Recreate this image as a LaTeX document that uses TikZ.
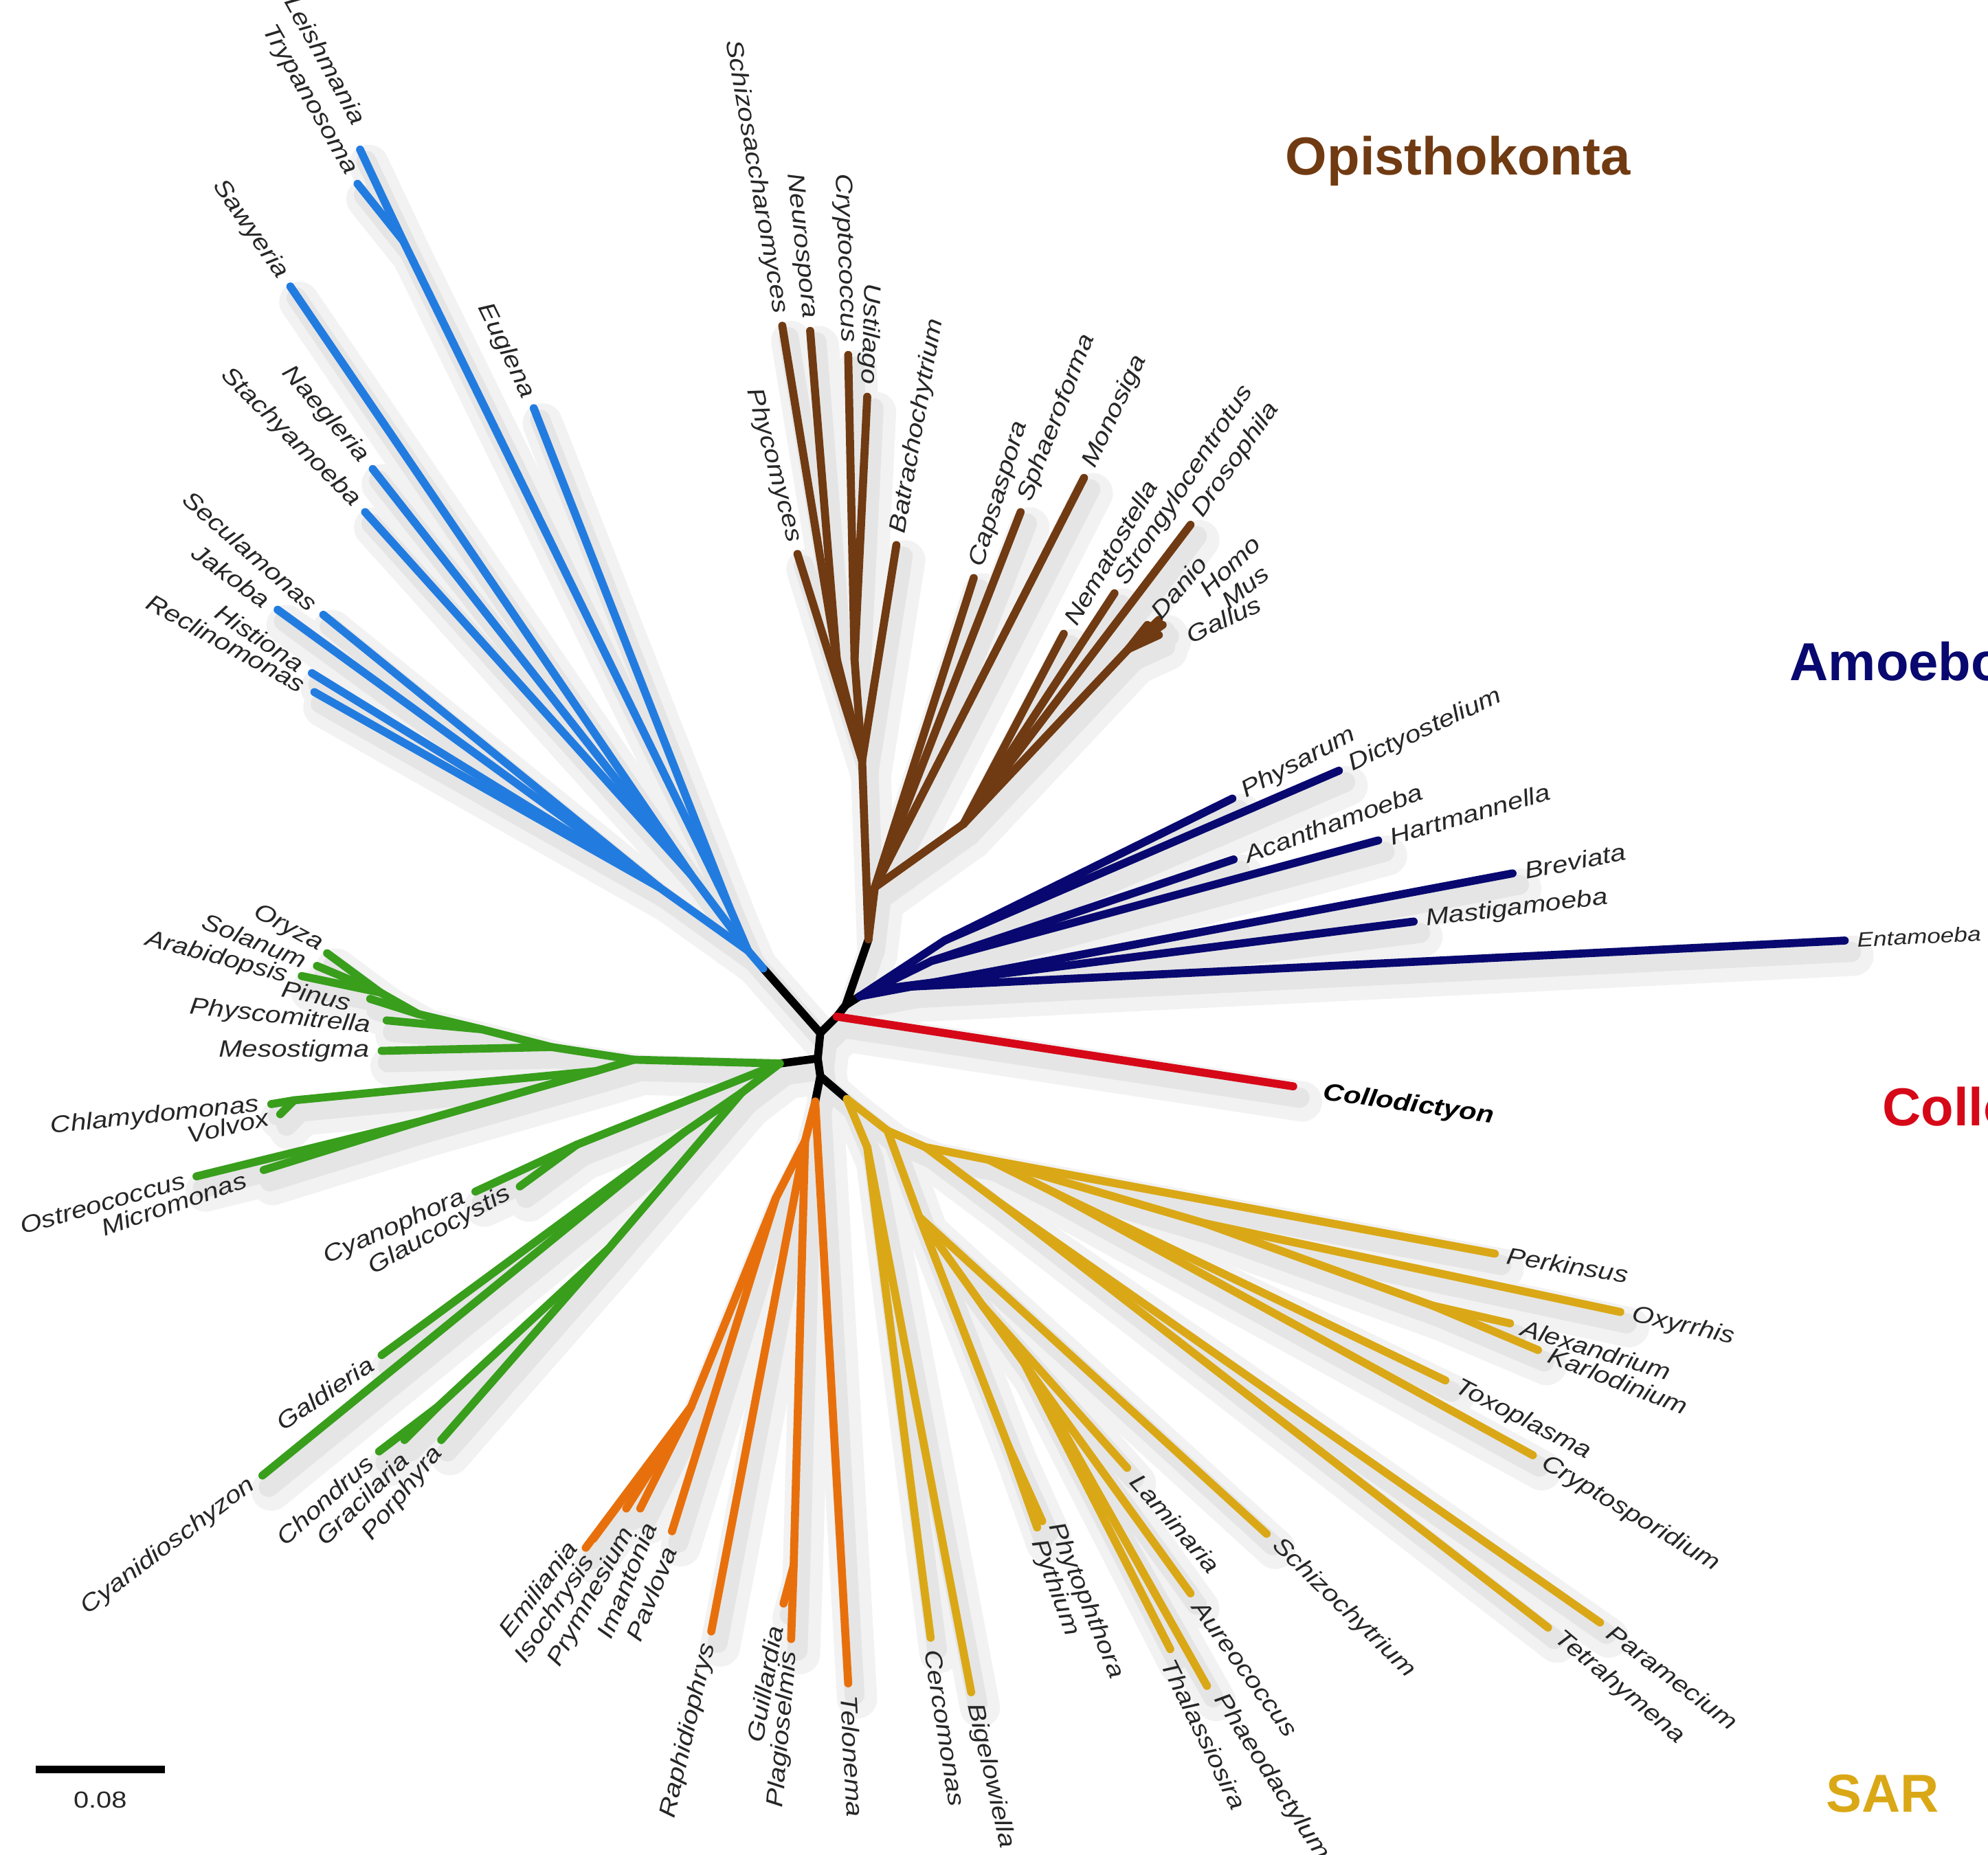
\documentclass[tikz,border=0pt]{standalone}
\usepackage{fontspec}
\setmainfont{Liberation Sans}
\newfontfamily\taxfont{Liberation Sans}[FakeStretch=1.18]

\definecolor{excblue}{RGB}{34,124,224}
\definecolor{opibrown}{RGB}{112,58,18}
\definecolor{amonavy}{RGB}{8,8,112}
\definecolor{colred}{RGB}{214,8,24}
\definecolor{arcgreen}{RGB}{56,158,28}
\definecolor{hacorange}{RGB}{232,112,12}
\definecolor{sargold}{RGB}{218,168,22}

% all branches of the tree (drawn once per shadow pass and once for real)
\newcommand\drawbranches{%
  % black backbone
  \draw[stem] (b0) -- (C1) -- (cR) -- (cA) -- (o0);
  \draw[stem] (cA) -- (a0);
  \draw[stem] (C1) -- (C2) -- (C3) -- (O);
  \draw[stem] (C2) -- (g0);
  \draw[stem] (C3) -- (Y);
  % excavates
  \draw[exc] (b0) -- (bD);
  \draw[exc] (bD) -- (bEu) -- (bKin) -- (leishmania);
  \draw[exc] (bKin) -- (trypanosoma);
  \draw[exc] (bEu) -- (euglena);
  \draw[exc] (bD) -- (bHet) -- (sawyeria);
  \draw[exc] (bHet) -- (naegleria);
  \draw[exc] (bHet) -- (stachyamoeba);
  \draw[exc] (bD) -- (bJak) -- (seculamonas);
  \draw[exc] (bJak) -- (jakoba);
  \draw[exc] (bJak) -- (histiona);
  \draw[exc] (bJak) -- (reclinomonas);
  % opisthokonts
  \draw[opi] (o0) -- (oF) -- (oAsc) -- (schizo);
  \draw[opi] (oAsc) -- (neurospora);
  \draw[opi] (oF) -- (oBas) -- (cryptococcus);
  \draw[opi] (oBas) -- (ustilago);
  \draw[opi] (oF) -- (phycomyces);
  \draw[opi] (oF) -- (batracho);
  \draw[opi] (o0) -- (oH) -- (capsaspora);
  \draw[opi] (oH) -- (sphaeroforma);
  \draw[opi] (oH) -- (monosiga);
  \draw[opi] (oH) -- (oM) -- (nematostella);
  \draw[opi] (oM) -- (strongylo);
  \draw[opi] (oM) -- (drosophila);
  \draw[opi] (oM) -- (oV) -- (danio);
  \draw[opi] (oV) -- (homo);
  \draw[opi] (oV) -- (mus);
  \draw[opi] (oV) -- (gallus);
  % amoebozoa
  \draw[amo] (a0) -- (aArch) -- (entamoeba);
  \draw[amo] (aArch) -- (mastigamoeba);
  \draw[amo] (a0) -- (breviata);
  \draw[amo] (a0) -- (aDisc) -- (acanthamoeba);
  \draw[amo] (aDisc) -- (hartmannella);
  \draw[amo] (a0) -- (aMy) -- (physarum);
  \draw[amo] (aMy) -- (dictyostelium);
  % collodictyon
  \draw[col] (cR) -- (collodictyon);
  % archaeplastida
  \draw[arc] (g0) -- (gV) -- (gStr) -- (mesostigma);
  \draw[arc] (gStr) -- (gLand) -- (physcomitrella);
  \draw[arc] (gLand) -- (gSeed) -- (pinus);
  \draw[arc] (gSeed) -- (gAng) -- (oryza);
  \draw[arc] (gAng) -- (solanum);
  \draw[arc] (gAng) -- (arabidopsis);
  \draw[arc] (gV) -- (gChl) -- (gCV) -- (chlamydomonas);
  \draw[arc] (gCV) -- (volvox);
  \draw[arc] (gChl) -- (gOM) -- (ostreococcus);
  \draw[arc] (gOM) -- (micromonas);
  \draw[arc] (g0) -- (gGl) -- (cyanophora);
  \draw[arc] (gGl) -- (glaucocystis);
  \draw[arc] (g0) -- (gR) -- (gCy) -- (galdieria);
  \draw[arc] (gCy) -- (cyanidioschyzon);
  \draw[arc] (gR) -- (gBF) -- (porphyra);
  \draw[arc] (gBF) -- (gFl) -- (chondrus);
  \draw[arc] (gFl) -- (gracilaria);
  % haptophytes, cryptophytes and relatives
  \draw[hac] (O) -- (hR) -- (hHap) -- (pavlova);
  \draw[hac] (hHap) -- (hPrym) -- (emiliania);
  \draw[hac] (hPrym) -- (isochrysis);
  \draw[hac] (hPrym) -- (prymnesium);
  \draw[hac] (hPrym) -- (imantonia);
  \draw[hac] (hR) -- (raphidiophrys);
  \draw[hac] (hR) -- (hCry) -- (guillardia);
  \draw[hac] (hCry) -- (plagioselmis);
  \draw[hac] (O) -- (telonema);
  % SAR
  \draw[sar] (Y) -- (yRh) -- (cercomonas);
  \draw[sar] (yRh) -- (bigelowiella);
  \draw[sar] (Y) -- (ySA) -- (yStr) -- (schizochytrium);
  \draw[sar] (yStr) -- (yOom) -- (phytophthora);
  \draw[sar] (yOom) -- (pythium);
  \draw[sar] (yStr) -- (yOch) -- (laminaria);
  \draw[sar] (yOch) -- (aureococcus);
  \draw[sar] (yOch) -- (yDia) -- (thalassiosira);
  \draw[sar] (yDia) -- (phaeodactylum);
  \draw[sar] (ySA) -- (yAlv) -- (yCil) -- (paramecium);
  \draw[sar] (yCil) -- (tetrahymena);
  \draw[sar] (yAlv) -- (yMyz) -- (perkinsus);
  \draw[sar] (yMyz) -- (yDino) -- (oxyrrhis);
  \draw[sar] (yDino) -- (yAK) -- (alexandrium);
  \draw[sar] (yAK) -- (karlodinium);
  \draw[sar] (yMyz) -- (yApi) -- (toxoplasma);
  \draw[sar] (yApi) -- (cryptosporidium);
}

\begin{document}
\begin{tikzpicture}[
  x=0.01cm, y=-0.01cm,
  branch/.style={line width=1.8pt, line cap=round, line join=round},
  stem/.style={branch, draw=black},
  exc/.style={branch, draw=excblue},
  opi/.style={branch, draw=opibrown},
  amo/.style={branch, draw=amonavy},
  col/.style={branch, draw=colred},
  arc/.style={branch, draw=arcgreen},
  hac/.style={branch, draw=hacorange},
  sar/.style={branch, draw=sargold},
  shadowpass/.style={stem/.style={#1}, exc/.style={#1}, opi/.style={#1},
    amo/.style={#1}, col/.style={#1}, arc/.style={#1}, hac/.style={#1},
    sar/.style={#1}},
  tax/.style={font=\taxfont\fontsize{5.3}{6}\selectfont\itshape, text=black!85,
              inner sep=1pt, outer sep=1.8pt},
  grp/.style={font=\fontsize{12}{14}\selectfont\bfseries, inner sep=0pt},
]
\useasboundingbox (0,0) rectangle (1568,1463);
\clip (0,0) rectangle (1568,1463);

% backbone
\coordinate (b0) at (602,764);
\coordinate (C1) at (647,815);
\coordinate (cR) at (660,802);
\coordinate (cA) at (667,793);
\coordinate (C2) at (645,835);
\coordinate (C3) at (647,849);
\coordinate (o0) at (685,741);
\coordinate (a0) at (678,786);
\coordinate (g0) at (615,839);
\coordinate (O)  at (643,869);
\coordinate (Y)  at (668,867);

% excavates
\coordinate (bD) at (590,750);
\coordinate (bEu) at (575,715);
\coordinate (bKin) at (318,190);
\coordinate (bHet) at (545,690);
\coordinate (bJak) at (520,700);
\coordinate (leishmania) at (284,118);
\coordinate (trypanosoma) at (282,145);
\coordinate (euglena) at (421,322);
\coordinate (sawyeria) at (229,226);
\coordinate (naegleria) at (294,370);
\coordinate (stachyamoeba) at (288,404);
\coordinate (seculamonas) at (255,485);
\coordinate (jakoba) at (219,481);
\coordinate (histiona) at (246,531);
\coordinate (reclinomonas) at (248,546);

% opisthokonts
\coordinate (oF) at (680,600);
\coordinate (oAsc) at (660,520);
\coordinate (oBas) at (674,520);
\coordinate (oH) at (690,700);
\coordinate (oM) at (760,650);
\coordinate (oV) at (890,512);
\coordinate (schizo) at (617,257);
\coordinate (neurospora) at (639,261);
\coordinate (cryptococcus) at (669,280);
\coordinate (ustilago) at (684,313);
\coordinate (phycomyces) at (629,437);
\coordinate (batracho) at (707,430);
\coordinate (capsaspora) at (768,456);
\coordinate (sphaeroforma) at (805,404);
\coordinate (monosiga) at (855,377);
\coordinate (nematostella) at (839,500);
\coordinate (strongylo) at (879,468);
\coordinate (drosophila) at (939,414);
\coordinate (danio) at (905,493);
\coordinate (homo) at (914,489);
\coordinate (mus) at (917,493);
\coordinate (gallus) at (914,501);

% amoebozoa
\coordinate (aArch) at (705,779);
\coordinate (aDisc) at (735,758);
\coordinate (aMy) at (745,742);
\coordinate (entamoeba) at (1455,742);
\coordinate (mastigamoeba) at (1115,727);
\coordinate (breviata) at (1193,689);
\coordinate (acanthamoeba) at (973,678);
\coordinate (hartmannella) at (1087,663);
\coordinate (physarum) at (972,630);
\coordinate (dictyostelium) at (1056,608);

% collodictyon
\coordinate (collodictyon) at (1020,857);

% archaeplastida
\coordinate (gV) at (500,836);
\coordinate (gStr) at (435,826);
\coordinate (gLand) at (380,812);
\coordinate (gSeed) at (330,800);
\coordinate (gAng) at (300,783);
\coordinate (gChl) at (470,845);
\coordinate (gCV) at (232,868);
\coordinate (gOM) at (330,885);
\coordinate (gGl) at (455,903);
\coordinate (gR) at (585,862);
\coordinate (gCy) at (540,893);
\coordinate (gBF) at (480,985);
\coordinate (gFl) at (345,1110);
\coordinate (oryza) at (258,752);
\coordinate (solanum) at (250,762);
\coordinate (arabidopsis) at (238,770);
\coordinate (pinus) at (292,788);
\coordinate (physcomitrella) at (305,805);
\coordinate (mesostigma) at (301,829);
\coordinate (chlamydomonas) at (214,871);
\coordinate (volvox) at (221,879);
\coordinate (ostreococcus) at (155,928);
\coordinate (micromonas) at (208,923);
\coordinate (cyanophora) at (375,940);
\coordinate (glaucocystis) at (410,936);
\coordinate (galdieria) at (301,1069);
\coordinate (cyanidioschyzon) at (207,1164);
\coordinate (chondrus) at (299,1145);
\coordinate (gracilaria) at (319,1136);
\coordinate (porphyra) at (348,1136);

% haptophytes, cryptophytes and relatives
\coordinate (hR) at (635,900);
\coordinate (hHap) at (612,945);
\coordinate (hPrym) at (545,1110);
\coordinate (hCry) at (626,1235);
\coordinate (emiliania) at (462,1221);
\coordinate (isochrysis) at (468,1214);
\coordinate (prymnesium) at (494,1190);
\coordinate (imantonia) at (505,1190);
\coordinate (pavlova) at (530,1208);
\coordinate (raphidiophrys) at (561,1287);
\coordinate (guillardia) at (618,1265);
\coordinate (plagioselmis) at (624,1293);
\coordinate (telonema) at (669,1328);

% SAR
\coordinate (yRh) at (684,905);
\coordinate (ySA) at (700,892);
\coordinate (yStr) at (725,960);
\coordinate (yOom) at (795,1140);
\coordinate (yOch) at (775,1030);
\coordinate (yDia) at (800,1060);
\coordinate (yAlv) at (730,905);
\coordinate (yCil) at (790,950);
\coordinate (yMyz) at (780,915);
\coordinate (yDino) at (950,965);
\coordinate (yAK) at (1130,1030);
\coordinate (yApi) at (830,940);
\coordinate (cercomonas) at (734,1292);
\coordinate (bigelowiella) at (766,1335);
\coordinate (phytophthora) at (822,1200);
\coordinate (pythium) at (818,1205);
\coordinate (laminaria) at (889,1158);
\coordinate (aureococcus) at (939,1257);
\coordinate (thalassiosira) at (923,1301);
\coordinate (phaeodactylum) at (952,1330);
\coordinate (schizochytrium) at (999,1210);
\coordinate (perkinsus) at (1179,989);
\coordinate (oxyrrhis) at (1278,1035);
\coordinate (alexandrium) at (1191,1044);
\coordinate (karlodinium) at (1213,1065);
\coordinate (toxoplasma) at (1140,1089);
\coordinate (cryptosporidium) at (1209,1148);
\coordinate (paramecium) at (1262,1280);
\coordinate (tetrahymena) at (1221,1284);

% soft drop shadow, then the tree
\begin{scope}[transform canvas={shift={(7,12)}},
  shadowpass={line width=9pt, line cap=round, line join=round, draw=black!5}]
  \drawbranches
\end{scope}
\begin{scope}[transform canvas={shift={(5,9)}},
  shadowpass={line width=4.5pt, line cap=round, line join=round, draw=black!10}]
  \drawbranches
\end{scope}
\drawbranches

% leaf labels
\node[tax, rotate=-61, anchor=east] (tLeish) at ([shift={(5,-13)}]leishmania) {Leishmania};
\node[tax, rotate=-60, anchor=east] (tTrypa) at (trypanosoma) {Trypanosoma};
\node[tax, rotate=-64, anchor=east] (tEugl) at (euglena) {Euglena};
\node[tax, rotate=-55, anchor=east] (tSawy) at (sawyeria) {Sawyeria};
\node[tax, rotate=-49, anchor=east] (tNaeg) at (naegleria) {Naegleria};
\node[tax, rotate=-45, anchor=east] (tStac) at (stachyamoeba) {Stachyamoeba};
\node[tax, rotate=-41, anchor=east] (tSecu) at (seculamonas) {Seculamonas};
\node[tax, rotate=-36, anchor=east] (tJako) at (jakoba) {Jakoba};
\node[tax, rotate=-34, anchor=east] (tHist) at (histiona) {Histiona};
\node[tax, rotate=-29, anchor=east] (tRecl) at (reclinomonas) {Reclinomonas};

\node[tax, rotate=-80, anchor=east] (tSchi) at (schizo) {Schizosaccharomyces};
\node[tax, rotate=-84, anchor=east] (tNeur) at (neurospora) {Neurospora};
\node[tax, rotate=-88, anchor=east] (tCryp) at (cryptococcus) {Cryptococcus};
\node[tax, rotate=-92, anchor=east] (tUsti) at (ustilago) {Ustilago};
\node[tax, rotate=-75, anchor=east] (tPhyc) at (phycomyces) {Phycomyces};
\node[tax, rotate=80, anchor=west] (tBatr) at (batracho) {Batrachochytrium};
\node[tax, rotate=73, anchor=west] (tCaps) at (capsaspora) {Capsaspora};
\node[tax, rotate=69, anchor=west] (tSpha) at (sphaeroforma) {Sphaeroforma};
\node[tax, rotate=65, anchor=west] (tMono) at (monosiga) {Monosiga};
\node[tax, rotate=60, anchor=west] (tNema) at (nematostella) {Nematostella};
\node[tax, rotate=57, anchor=west] (tStro) at (strongylo) {Strongylocentrotus};
\node[tax, rotate=55, anchor=west] (tDros) at (drosophila) {Drosophila};
\node[tax, rotate=50, anchor=west] (tDani) at (danio) {Danio};
\node[tax, rotate=44, anchor=west] (tHomo) at ([shift={(28,-15)}]homo) {Homo};
\node[tax, rotate=38, anchor=west] (tMus) at ([shift={(41,-11)}]mus) {Mus};
\node[tax, rotate=25, anchor=west] (tGall) at ([shift={(14,5)}]gallus) {Gallus};

\node[tax, rotate=28, anchor=west] (tPhys) at (physarum) {Physarum};
\node[tax, rotate=25, anchor=west] (tDict) at (dictyostelium) {Dictyostelium};
\node[tax, rotate=20, anchor=west] (tAcan) at (acanthamoeba) {Acanthamoeba};
\node[tax, rotate=16, anchor=west] (tHart) at (hartmannella) {Hartmannella};
\node[tax, rotate=11, anchor=west] (tBrev) at (breviata) {Breviata};
\node[tax, rotate=7, anchor=west] (tMast) at (mastigamoeba) {Mastigamoeba};
\node[tax, rotate=3, anchor=west, font=\taxfont\fontsize{4.6}{5}\selectfont\itshape]
  (tEnta) at (entamoeba) {Entamoeba};

\node[tax, rotate=-8, anchor=west, text=black,
      font=\taxfont\fontsize{5.4}{6}\selectfont\bfseries\itshape]
  (tColl) at ([shift={(14,4)}]collodictyon) {Collodictyon};

\node[tax, rotate=-28, anchor=east] (tOryz) at ([shift={(4,-1)}]oryza) {Oryza};
\node[tax, rotate=-22, anchor=east] (tSola) at (solanum) {Solanum};
\node[tax, rotate=-15, anchor=east] (tArab) at ([shift={(-2,3)}]arabidopsis) {Arabidopsis};
\node[tax, rotate=-12, anchor=east] (tPinu) at ([shift={(-6,5)}]pinus) {Pinus};
\node[tax, rotate=-6, anchor=east] (tPhco) at ([shift={(-3,6)}]physcomitrella) {Physcomitrella};
\node[tax, anchor=east] (tMeso) at (mesostigma) {Mesostigma};
\node[tax, rotate=6, anchor=east] (tChla) at (chlamydomonas) {Chlamydomonas};
\node[tax, rotate=13, anchor=east] (tVolv) at (volvox) {Volvox};
\node[tax, rotate=16, anchor=east] (tOstr) at (ostreococcus) {Ostreococcus};
\node[tax, rotate=19, anchor=east] (tMicr) at ([shift={(-5,4)}]micromonas) {Micromonas};
\node[tax, rotate=24, anchor=east] (tCyph) at (cyanophora) {Cyanophora};
\node[tax, rotate=29, anchor=east] (tGlau) at (glaucocystis) {Glaucocystis};
\node[tax, rotate=34, anchor=east] (tGald) at (galdieria) {Galdieria};
\node[tax, rotate=37, anchor=east] (tCyan) at (cyanidioschyzon) {Cyanidioschyzon};
\node[tax, rotate=42, anchor=east] (tChon) at (chondrus) {Chondrus};
\node[tax, rotate=45, anchor=east] (tGrac) at ([shift={(7,6)}]gracilaria) {Gracilaria};
\node[tax, rotate=51, anchor=east] (tPorp) at ([shift={(4,0)}]porphyra) {Porphyra};

\node[tax, rotate=53, anchor=east] (tEmil) at ([shift={(-5,-11)}]emiliania) {Emiliania};
\node[tax, rotate=56, anchor=east] (tIsoc) at ([shift={(3,7)}]isochrysis) {Isochrysis};
\node[tax, rotate=61, anchor=east] (tPrym) at ([shift={(7,8)}]prymnesium) {Prymnesium};
\node[tax, rotate=68, anchor=east] (tIman) at ([shift={(11,3)}]imantonia) {Imantonia};
\node[tax, rotate=68, anchor=east] (tPavl) at ([shift={(2,4)}]pavlova) {Pavlova};
\node[tax, rotate=77, anchor=east] (tRaph) at (raphidiophrys) {Raphidiophrys};
\node[tax, rotate=80, anchor=east] (tGuil) at ([shift={(-5,8)}]guillardia) {Guillardia};
\node[tax, rotate=85, anchor=east] (tPlag) at (plagioselmis) {Plagioselmis};
\node[tax, rotate=-87, anchor=west] (tTelo) at (telonema) {Telonema};

\node[tax, rotate=-81, anchor=west] (tCerc) at (cercomonas) {Cercomonas};
\node[tax, rotate=-77, anchor=west] (tBige) at (bigelowiella) {Bigelowiella};
\node[tax, rotate=-68, anchor=west] (tPhyt) at ([shift={(6,-7)}]phytophthora) {Phytophthora};
\node[tax, rotate=-70, anchor=west] (tPyth) at ([shift={(-3,1)}]pythium) {Pythium};
\node[tax, rotate=-49, anchor=west] (tLami) at (laminaria) {Laminaria};
\node[tax, rotate=-54, anchor=west] (tAure) at (aureococcus) {Aureococcus};
\node[tax, rotate=-64, anchor=west] (tThal) at ([shift={(-6,0)}]thalassiosira) {Thalassiosira};
\node[tax, rotate=-57, anchor=west] (tPhae) at ([shift={(4,0)}]phaeodactylum) {Phaeodactylum};
\node[tax, rotate=-44, anchor=west] (tScho) at (schizochytrium) {Schizochytrium};
\node[tax, rotate=-9, anchor=west] (tPerk) at (perkinsus) {Perkinsus};
\node[tax, rotate=-13, anchor=west] (tOxyr) at (oxyrrhis) {Oxyrrhis};
\node[tax, rotate=-17, anchor=west] (tAlex) at (alexandrium) {Alexandrium};
\node[tax, rotate=-21, anchor=west] (tKarl) at (karlodinium) {Karlodinium};
\node[tax, rotate=-27, anchor=west] (tToxo) at (toxoplasma) {Toxoplasma};
\node[tax, rotate=-31, anchor=west] (tCrsp) at (cryptosporidium) {Cryptosporidium};
\node[tax, rotate=-37, anchor=west] (tPara) at (paramecium) {Paramecium};
\node[tax, rotate=-40, anchor=west] (tTetr) at (tetrahymena) {Tetrahymena};

% group names
\node[grp, text=opibrown] (gOpis) at (1150,127) {Opisthokonta};
\node[grp, text=amonavy, anchor=west] (gAmoe) at (1411,522) {Amoebozoa};
\node[grp, text=colred, anchor=west] (gColl) at (1484,877) {Collodictyon};
\node[grp, text=sargold] (gSAR) at (1485,1415) {SAR};

% scale bar
\coordinate (sbL) at (28,1396);
\coordinate (sbR) at (130,1396);
\draw[line width=1.6pt] (sbL) -- (sbR);
\node[font=\taxfont\fontsize{5.2}{6}\selectfont, text=black!85] (sbT) at (79,1420) {0.08};

\end{tikzpicture}
\end{document}
